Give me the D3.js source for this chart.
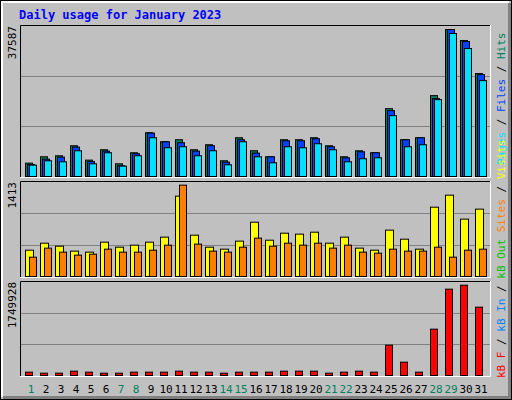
<!DOCTYPE html>
<html><head><meta charset="utf-8">
<script src="https://cdn.jsdelivr.net/npm/d3@7"></script>
<style>body{margin:0;background:#fff}svg{display:block}</style>
</head><body>
<svg id="c" width="512" height="400"></svg>
<script>
const days = d3.range(1, 32).map(String);
const weekend = ["1","7","8","14","15","21","22","28","29"];
const hits  = [3552,5122,5370,7848,4296,6857,3387,6113,11070,8839,9335,6857,8096,4131,9831,6609,5122,9335,9335,9831,7848,5122,6609,6113,17018,9335,9831,20240,36597,33871,25692];
const files = [3222,4544,5039,7518,3965,6526,2891,5865,10987,8839,8591,6526,7848,3800,9335,6031,5122,9087,9087,9583,7600,4874,6361,6113,16522,9335,9831,19496,36597,33622,25444];
const pages = [3057,4131,3883,6609,3387,6113,2809,5370,9831,7352,7600,5370,6609,3139,8839,5122,3635,7600,7352,8344,6857,3883,4626,4874,15283,7600,8096,19248,35606,31888,23957];
const visits= [402,505,461,388,373,520,446,476,520,594,1197,623,446,417,535,814,549,652,638,667,505,594,432,402,697,564,417,1035,1212,859,1006];
const sites = [299,432,373,329,343,417,373,373,402,476,1359,491,388,373,446,579,461,505,476,505,432,476,373,358,417,388,388,446,299,402,417];
const kbF   = [79820,61400,61400,98240,79820,61400,61400,79820,79820,79820,98240,79820,79820,61400,79820,79820,79820,98240,98240,98240,61400,79820,98240,79820,577160,264020,79820,871880,1608680,1682360,1277120];
const maxTop = 37587, maxMid = 1413, maxBot = 1749928;

const svg = d3.select("#c");
const mono = "'DejaVu Sans Mono', monospace";
svg.append("rect").attr("width",512).attr("height",400).attr("fill","#c0c0c0");
// 3D frame
svg.append("rect").attr("x",0.5).attr("y",0.5).attr("width",511).attr("height",399).attr("fill","none").attr("stroke","#000");
svg.append("path").attr("d","M2,397V2H509").attr("fill","none").attr("stroke","#fff").attr("stroke-width",2);
svg.append("path").attr("d","M3,397.5H509.5V3").attr("fill","none").attr("stroke","#808080").attr("stroke-width",3);

svg.append("text").attr("x",19).attr("y",19).text("Daily usage for January 2023")
  .attr("font-family",mono).attr("font-weight","bold").attr("font-size",12).attr("fill","#0000ff");

const x = d3.scaleBand().domain(days).range([25,490]).padding(0);
const L = 20, R = 490;
function panel(top, bottom, max, label){
  svg.append("rect").attr("x",L).attr("y",top).attr("width",R-L).attr("height",bottom-top).attr("fill","#c0c0c0");
  const y = d3.scaleLinear().domain([0,max]).range([bottom, top]);
  [max/3, 2*max/3].forEach(v=>svg.append("line").attr("x1",L).attr("x2",R).attr("y1",Math.round(y(v))+0.5).attr("y2",Math.round(y(v))+0.5).attr("stroke","#808080"));
  svg.append("path").attr("d",`M${L+0.5},${bottom}V${top+0.5}H${R}`).attr("fill","none").attr("stroke","#000");
  svg.append("path").attr("d",`M${L},${bottom+0.5}H${R+0.5}V${top}`).attr("fill","none").attr("stroke","#fff");
  svg.append("text").attr("transform",`translate(16,${top+1}) rotate(-90)`).attr("text-anchor","end")
    .attr("font-family",mono).attr("font-size",11).attr("fill","#000").text(label);
  return y;
}
function bars(y, data, off, w, color){
  svg.append("g").selectAll("rect").data(data).join("rect")
    .attr("x",(d,i)=>x(days[i])+off+0.5).attr("y",d=>y(d)+0.5)
    .attr("width",w-1).attr("height",d=>y(0)-y(d)-1)
    .attr("fill",color).attr("stroke","#000");
}
const yT = panel(25, 177, maxTop, "37587");
bars(yT, hits, 0, 8, "#00805c");
bars(yT, files, 2, 8, "#0040ff");
bars(yT, pages, 4, 8, "#00e0ff");
const yM = panel(181, 277, maxMid, "1413");
bars(yM, visits, 0, 9, "#ffff00");
bars(yM, sites, 4, 8, "#ff8000");
const yB = panel(281, 376, maxBot, "1749928");
bars(yB, kbF, 0, 8, "#ff0000");

svg.append("g").selectAll("text").data(days).join("text")
  .attr("x",d=>x(d)+6).attr("y",393).attr("text-anchor","middle")
  .attr("font-family",mono).attr("font-size",11)
  .attr("fill",d=>weekend.includes(d)?"#00805c":"#000").text(d=>d);

function side(y0, parts){
  const t = svg.append("text").attr("transform",`translate(505,${y0}) rotate(-90)`)
    .attr("font-family",mono).attr("font-size",11);
  parts.forEach(([s,c])=>t.append("tspan").attr("fill",c).text(s));
}
side(165, [["Pages","#00e0ff"],[" / ","#000"],["Files","#0040ff"],[" / ","#000"],["Hits","#00805c"]]);
side(378, [["kB F","#ff0000"],[" / ","#000"],["kB In","#0080ff"],[" / ","#000"],["kB Out","#00c000"],[" ","#000"],["Sites","#ff8000"],[" / ","#000"],["Visits","#ffff00"]]);
</script>
</body></html>
